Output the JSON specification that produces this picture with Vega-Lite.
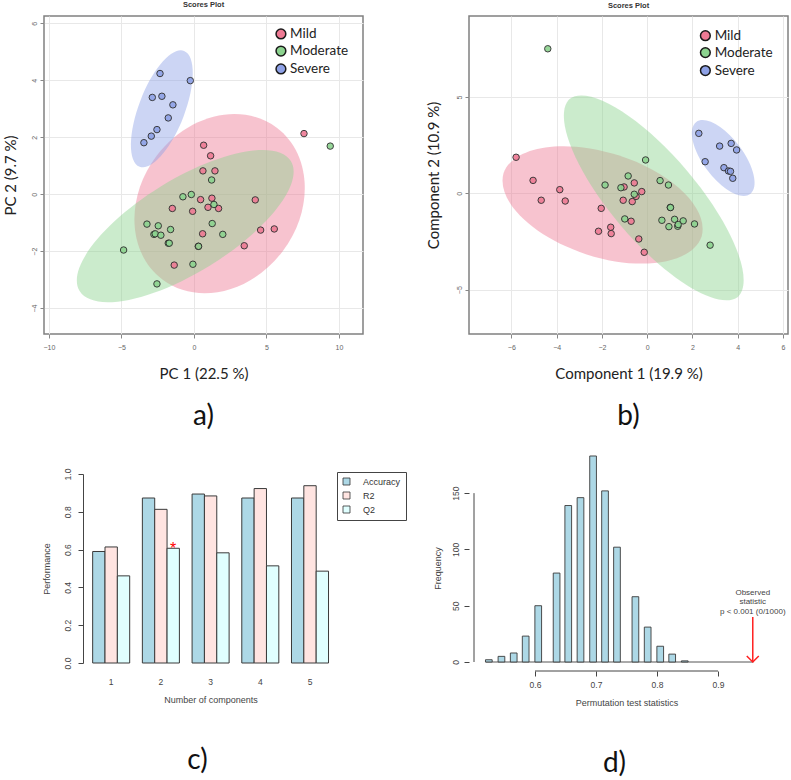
{
  "$schema": "https://vega.github.io/schema/vega-lite/v6.json",
  "background": "white",
  "padding": {"left": 2, "top": 0, "right": 0, "bottom": 0},
  "columns": 2,
  "bounds": "flush",
  "align": "all",
  "spacing": {"row": 140, "column": 106},
  "resolve": {
    "scale": {"color": "independent", "fill": "independent", "shape": "independent", "x": "independent", "y": "independent"},
    "legend": {"color": "independent", "fill": "independent", "shape": "independent"}
  },
  "datasets": {
    "ptsA": [
      {"group": "Severe", "x": -2.34, "y": 4.24}, {"group": "Severe", "x": -0.25, "y": 3.99}, {"group": "Severe", "x": -2.87, "y": 3.40},
      {"group": "Severe", "x": -2.21, "y": 3.44}, {"group": "Severe", "x": -1.45, "y": 3.14}, {"group": "Severe", "x": -1.77, "y": 2.68},
      {"group": "Severe", "x": -2.55, "y": 2.27}, {"group": "Severe", "x": -2.94, "y": 2.04}, {"group": "Severe", "x": -3.45, "y": 1.81},
      {"group": "Mild", "x": 7.59, "y": 2.13}, {"group": "Mild", "x": 0.67, "y": 1.72}, {"group": "Mild", "x": 1.15, "y": 1.35},
      {"group": "Mild", "x": 0.62, "y": 0.82}, {"group": "Mild", "x": 1.45, "y": 0.82}, {"group": "Mild", "x": 0.46, "y": -0.19},
      {"group": "Mild", "x": 1.24, "y": -0.14}, {"group": "Mild", "x": 4.23, "y": -0.20}, {"group": "Mild", "x": -1.49, "y": -0.50},
      {"group": "Mild", "x": 0.97, "y": -0.46}, {"group": "Mild", "x": 1.70, "y": -0.50}, {"group": "Mild", "x": -0.09, "y": -0.60},
      {"group": "Mild", "x": 4.60, "y": -1.26}, {"group": "Mild", "x": 5.54, "y": -1.22}, {"group": "Mild", "x": 0.60, "y": -1.39},
      {"group": "Mild", "x": 3.47, "y": -1.81}, {"group": "Mild", "x": 0.30, "y": -1.83}, {"group": "Mild", "x": -1.36, "y": -2.49},
      {"group": "Moderate", "x": 9.40, "y": 1.69}, {"group": "Moderate", "x": 1.22, "y": 0.50}, {"group": "Moderate", "x": -0.76, "y": -0.09},
      {"group": "Moderate", "x": -0.18, "y": -0.01}, {"group": "Moderate", "x": 1.38, "y": -0.36}, {"group": "Moderate", "x": 1.26, "y": -1.03},
      {"group": "Moderate", "x": 1.99, "y": -1.41}, {"group": "Moderate", "x": -3.24, "y": -1.05}, {"group": "Moderate", "x": -2.46, "y": -1.11},
      {"group": "Moderate", "x": -1.61, "y": -1.24}, {"group": "Moderate", "x": -2.76, "y": -1.41}, {"group": "Moderate", "x": -2.67, "y": -1.39},
      {"group": "Moderate", "x": -2.28, "y": -1.44}, {"group": "Moderate", "x": -1.77, "y": -1.72}, {"group": "Moderate", "x": -1.70, "y": -1.72},
      {"group": "Moderate", "x": 0.32, "y": -1.83}, {"group": "Moderate", "x": -0.07, "y": -2.46}, {"group": "Moderate", "x": -4.85, "y": -1.96},
      {"group": "Moderate", "x": -2.55, "y": -3.15}
    ],
    "ellA": [
      {"cluster": "Mild", "x": 1.77, "y": -0.33},
      {"cluster": "Moderate", "x": -0.6, "y": -1.12},
      {"cluster": "Severe", "x": -2.21, "y": 3.0}
    ],
    "ptsB": [
      {"group": "Severe", "x": 2.28, "y": 3.11}, {"group": "Severe", "x": 3.20, "y": 2.45}, {"group": "Severe", "x": 3.71, "y": 2.59},
      {"group": "Severe", "x": 3.95, "y": 2.25}, {"group": "Severe", "x": 2.56, "y": 1.64}, {"group": "Severe", "x": 3.39, "y": 1.33},
      {"group": "Severe", "x": 3.59, "y": 1.16}, {"group": "Severe", "x": 3.68, "y": 1.14}, {"group": "Severe", "x": 3.78, "y": 0.78},
      {"group": "Mild", "x": -5.79, "y": 1.87}, {"group": "Mild", "x": -5.04, "y": 0.67}, {"group": "Mild", "x": -3.86, "y": 0.19},
      {"group": "Mild", "x": -4.68, "y": -0.36}, {"group": "Mild", "x": -3.62, "y": -0.40}, {"group": "Mild", "x": -2.03, "y": -0.78},
      {"group": "Mild", "x": -2.15, "y": -1.97}, {"group": "Mild", "x": -1.61, "y": -1.76}, {"group": "Mild", "x": -1.59, "y": -2.09},
      {"group": "Mild", "x": -0.37, "y": -2.37}, {"group": "Mild", "x": -0.13, "y": -3.06}, {"group": "Mild", "x": -1.02, "y": 0.33},
      {"group": "Mild", "x": -0.57, "y": 0.54}, {"group": "Mild", "x": -0.24, "y": 0.09}, {"group": "Mild", "x": -0.49, "y": -0.16},
      {"group": "Mild", "x": -0.66, "y": -0.43}, {"group": "Mild", "x": -1.06, "y": -0.36}, {"group": "Mild", "x": -0.71, "y": -1.45},
      {"group": "Moderate", "x": -4.39, "y": 7.50}, {"group": "Moderate", "x": -0.07, "y": 1.73}, {"group": "Moderate", "x": -1.86, "y": 0.43},
      {"group": "Moderate", "x": -0.84, "y": 0.90}, {"group": "Moderate", "x": -1.16, "y": 0.29}, {"group": "Moderate", "x": -0.57, "y": -0.05},
      {"group": "Moderate", "x": 0.57, "y": 0.66}, {"group": "Moderate", "x": 0.94, "y": 0.43}, {"group": "Moderate", "x": 1.02, "y": -0.73},
      {"group": "Moderate", "x": 1.03, "y": -0.74}, {"group": "Moderate", "x": -0.99, "y": -1.33}, {"group": "Moderate", "x": 0.65, "y": -1.40},
      {"group": "Moderate", "x": 1.21, "y": -1.35}, {"group": "Moderate", "x": 1.59, "y": -1.43}, {"group": "Moderate", "x": 0.96, "y": -1.73},
      {"group": "Moderate", "x": 1.35, "y": -1.71}, {"group": "Moderate", "x": 1.37, "y": -1.62}, {"group": "Moderate", "x": 2.09, "y": -1.59},
      {"group": "Moderate", "x": 2.78, "y": -2.69}
    ],
    "ellB": [
      {"cluster": "Mild", "x": -1.97, "y": -0.60},
      {"cluster": "Moderate", "x": 0.29, "y": -0.24},
      {"cluster": "Severe", "x": 3.36, "y": 1.83}
    ],
    "perf": [
      {"comp": "1", "metric": "Accuracy", "value": 0.590}, {"comp": "1", "metric": "R2", "value": 0.614}, {"comp": "1", "metric": "Q2", "value": 0.461},
      {"comp": "2", "metric": "Accuracy", "value": 0.873}, {"comp": "2", "metric": "R2", "value": 0.813}, {"comp": "2", "metric": "Q2", "value": 0.607},
      {"comp": "3", "metric": "Accuracy", "value": 0.894}, {"comp": "3", "metric": "R2", "value": 0.884}, {"comp": "3", "metric": "Q2", "value": 0.583},
      {"comp": "4", "metric": "Accuracy", "value": 0.873}, {"comp": "4", "metric": "R2", "value": 0.923}, {"comp": "4", "metric": "Q2", "value": 0.514},
      {"comp": "5", "metric": "Accuracy", "value": 0.873}, {"comp": "5", "metric": "R2", "value": 0.938}, {"comp": "5", "metric": "Q2", "value": 0.486}
    ],
    "best": [{"comp": "2", "metric": "Q2", "value": 0.607}],
    "perm": [
      {"stat": 0.5243, "freq": 2}, {"stat": 0.5450, "freq": 5}, {"stat": 0.5651, "freq": 8}, {"stat": 0.5847, "freq": 23},
      {"stat": 0.6053, "freq": 50}, {"stat": 0.6354, "freq": 79}, {"stat": 0.6545, "freq": 139}, {"stat": 0.6746, "freq": 146},
      {"stat": 0.6952, "freq": 183}, {"stat": 0.7148, "freq": 152}, {"stat": 0.7344, "freq": 102}, {"stat": 0.7646, "freq": 58},
      {"stat": 0.7847, "freq": 31}, {"stat": 0.8053, "freq": 14}, {"stat": 0.8249, "freq": 7}, {"stat": 0.8455, "freq": 1}
    ],
    "observed": [{"stat": 0.957, "freq": 0}],
    "ref": [{}]
  },
  "config": {
    "font": "Liberation Sans",
    "view": {"stroke": null},
    "axis": {"labelFont": "Liberation Sans", "titleFont": "Liberation Sans", "titleFontWeight": "normal"},
    "title": {"font": "Lato", "fontWeight": "normal", "fontSize": 28, "color": "#111111"}
  },
  "concat": [
    {
      "width": 319, "height": 318,
      "view": {"stroke": "#808080", "strokeWidth": 1.5},
      "title": {"text": "a)", "orient": "bottom", "frame": "group", "anchor": "middle", "offset": 22},
      "layer": [
        {
          "data": {"name": "ellA"},
          "mark": {"type": "point", "filled": true, "size": 40000, "opacity": 0.45},
          "encoding": {
            "x": {"field": "x", "type": "quantitative", "scale": {"domain": [-10.34, 11.66], "nice": false, "zero": false},
              "axis": {"title": "PC 1 (22.5 %)", "values": [-10, -5, 0, 5, 10], "grid": true, "gridColor": "#e8e8e8", "domain": false, "tickColor": "#888888", "tickSize": 4, "labelFontSize": 7, "labelColor": "#666666", "labelPadding": 5, "titleFont": "Lato", "titleFontSize": 15, "titleColor": "#222222", "titlePadding": 16}},
            "y": {"field": "y", "type": "quantitative", "scale": {"domain": [-4.91, 6.26], "nice": false, "zero": false},
              "axis": {"title": "PC 2 (9.7 %)", "values": [-4, -2, 0, 2, 4, 6], "grid": true, "gridColor": "#e8e8e8", "domain": false, "tickColor": "#888888", "tickSize": 4, "labelAngle": -90, "labelOverlap": false, "labelFontSize": 7, "labelColor": "#666666", "labelPadding": 3, "titleFont": "Lato", "titleFontSize": 15, "titleColor": "#222222", "titlePadding": 12}},
            "shape": {"field": "cluster", "type": "nominal", "legend": null, "scale": {"domain": ["Mild", "Moderate", "Severe"], "range": [
              "M 0.572 -0.759 A 0.95 0.79 -53 0 1 -0.572 0.759 A 0.95 0.79 -53 0 1 0.572 -0.759 Z",
              "M 1.056 -0.650 A 1.24 0.465 -31.6 0 1 -1.056 0.650 A 1.24 0.465 -31.6 0 1 1.056 -0.650 Z",
              "M 0.222 -0.579 A 0.62 0.23 -69 0 1 -0.222 0.579 A 0.62 0.23 -69 0 1 0.222 -0.579 Z"]}},
            "fill": {"field": "cluster", "type": "nominal", "legend": null, "scale": {"domain": ["Mild", "Moderate", "Severe"], "range": ["#ee7a94", "#8cd38f", "#8ea1e6"]}}
          }
        },
        {
          "data": {"name": "ptsA"},
          "mark": {"type": "point", "filled": true, "size": 42, "stroke": "#2b2b2b", "strokeWidth": 1, "opacity": 0.9},
          "encoding": {
            "x": {"field": "x", "type": "quantitative"},
            "y": {"field": "y", "type": "quantitative"},
            "color": {"field": "group", "type": "nominal", "scale": {"domain": ["Mild", "Moderate", "Severe"], "range": ["#ee7a94", "#8cd38f", "#8ea1e6"]}, "legend": null}
          }
        },
        {
          "data": {"name": "ref"},
          "mark": {"type": "text", "text": "Scores Plot", "fontSize": 7.5, "fontWeight": "bold", "color": "#333333", "baseline": "middle"},
          "encoding": {"x": {"datum": 0.66, "type": "quantitative"}, "y": {"datum": 6.63, "type": "quantitative"}}
        },
        {
          "data": {"name": "ref"},
          "mark": {"type": "point", "filled": true, "size": 95, "fill": "#ee7a94", "stroke": "#1a1a1a", "strokeWidth": 1.5, "opacity": 1},
          "encoding": {"x": {"datum": 6.0, "type": "quantitative"}, "y": {"datum": 5.63, "type": "quantitative"}}
        },
        {
          "data": {"name": "ref"},
          "mark": {"type": "point", "filled": true, "size": 95, "fill": "#8cd38f", "stroke": "#1a1a1a", "strokeWidth": 1.5, "opacity": 1},
          "encoding": {"x": {"datum": 6.0, "type": "quantitative"}, "y": {"datum": 5.03, "type": "quantitative"}}
        },
        {
          "data": {"name": "ref"},
          "mark": {"type": "point", "filled": true, "size": 95, "fill": "#8ea1e6", "stroke": "#1a1a1a", "strokeWidth": 1.5, "opacity": 1},
          "encoding": {"x": {"datum": 6.0, "type": "quantitative"}, "y": {"datum": 4.40, "type": "quantitative"}}
        },
        {
          "data": {"name": "ref"},
          "mark": {"type": "text", "text": ["Mild", "Moderate", "Severe"], "font": "Lato", "fontSize": 13.5, "color": "#222222", "align": "left", "baseline": "middle", "lineHeight": 17.5},
          "encoding": {"x": {"datum": 6.63, "type": "quantitative"}, "y": {"datum": 5.63, "type": "quantitative"}}
        }
      ]
    },
    {
      "width": 319, "height": 318,
      "view": {"stroke": "#808080", "strokeWidth": 1.5},
      "title": {"text": "b)", "orient": "bottom", "frame": "group", "anchor": "middle", "offset": 22},
      "layer": [
        {
          "data": {"name": "ellB"},
          "mark": {"type": "point", "filled": true, "size": 40000, "opacity": 0.45},
          "encoding": {
            "x": {"field": "x", "type": "quantitative", "scale": {"domain": [-7.87, 6.22], "nice": false, "zero": false},
              "axis": {"title": "Component 1 (19.9 %)", "values": [-6, -4, -2, 0, 2, 4, 6], "grid": true, "gridColor": "#e8e8e8", "domain": false, "tickColor": "#888888", "tickSize": 4, "labelFontSize": 7, "labelColor": "#666666", "labelPadding": 5, "titleFont": "Lato", "titleFontSize": 15, "titleColor": "#222222", "titlePadding": 16}},
            "y": {"field": "y", "type": "quantitative", "scale": {"domain": [-7.3, 9.2], "nice": false, "zero": false},
              "axis": {"title": "Component 2 (10.9 %)", "values": [-5, 0, 5], "grid": true, "gridColor": "#e8e8e8", "domain": false, "tickColor": "#888888", "tickSize": 4, "labelAngle": -90, "labelOverlap": false, "labelFontSize": 7, "labelColor": "#666666", "labelPadding": 3, "titleFont": "Lato", "titleFontSize": 15, "titleColor": "#222222", "titlePadding": 14}},
            "shape": {"field": "cluster", "type": "nominal", "legend": null, "scale": {"domain": ["Mild", "Moderate", "Severe"], "range": [
              "M 0.990 0.318 A 1.04 0.53 17.8 0 1 -0.990 -0.318 A 1.04 0.53 17.8 0 1 0.990 0.318 Z",
              "M 0.842 0.990 A 1.30 0.44 49.6 0 1 -0.842 -0.990 A 1.30 0.44 49.6 0 1 0.842 0.990 Z",
              "M 0.270 0.360 A 0.45 0.20 53.1 0 1 -0.270 -0.360 A 0.45 0.20 53.1 0 1 0.270 0.360 Z"]}},
            "fill": {"field": "cluster", "type": "nominal", "legend": null, "scale": {"domain": ["Mild", "Moderate", "Severe"], "range": ["#ee7a94", "#8cd38f", "#8ea1e6"]}}
          }
        },
        {
          "data": {"name": "ptsB"},
          "mark": {"type": "point", "filled": true, "size": 42, "stroke": "#2b2b2b", "strokeWidth": 1, "opacity": 0.9},
          "encoding": {
            "x": {"field": "x", "type": "quantitative"},
            "y": {"field": "y", "type": "quantitative"},
            "color": {"field": "group", "type": "nominal", "scale": {"domain": ["Mild", "Moderate", "Severe"], "range": ["#ee7a94", "#8cd38f", "#8ea1e6"]}, "legend": null}
          }
        },
        {
          "data": {"name": "ref"},
          "mark": {"type": "text", "text": "Scores Plot", "fontSize": 7.5, "fontWeight": "bold", "color": "#333333", "baseline": "middle"},
          "encoding": {"x": {"datum": -0.825, "type": "quantitative"}, "y": {"datum": 9.74, "type": "quantitative"}}
        },
        {
          "data": {"name": "ref"},
          "mark": {"type": "point", "filled": true, "size": 95, "fill": "#ee7a94", "stroke": "#1a1a1a", "strokeWidth": 1.5, "opacity": 1},
          "encoding": {"x": {"datum": 2.57, "type": "quantitative"}, "y": {"datum": 8.18, "type": "quantitative"}}
        },
        {
          "data": {"name": "ref"},
          "mark": {"type": "point", "filled": true, "size": 95, "fill": "#8cd38f", "stroke": "#1a1a1a", "strokeWidth": 1.5, "opacity": 1},
          "encoding": {"x": {"datum": 2.57, "type": "quantitative"}, "y": {"datum": 7.30, "type": "quantitative"}}
        },
        {
          "data": {"name": "ref"},
          "mark": {"type": "point", "filled": true, "size": 95, "fill": "#8ea1e6", "stroke": "#1a1a1a", "strokeWidth": 1.5, "opacity": 1},
          "encoding": {"x": {"datum": 2.57, "type": "quantitative"}, "y": {"datum": 6.37, "type": "quantitative"}}
        },
        {
          "data": {"name": "ref"},
          "mark": {"type": "text", "text": ["Mild", "Moderate", "Severe"], "font": "Lato", "fontSize": 13.5, "color": "#222222", "align": "left", "baseline": "middle", "lineHeight": 17.5},
          "encoding": {"x": {"datum": 2.98, "type": "quantitative"}, "y": {"datum": 8.18, "type": "quantitative"}}
        }
      ]
    },
    {
      "width": 297, "height": 189,
      "title": {"text": "c)", "orient": "bottom", "frame": "group", "anchor": "middle", "offset": 42, "dx": 5},
      "layer": [
        {
          "data": {"name": "perf"},
          "mark": {"type": "bar", "stroke": "#3a3a3a", "strokeWidth": 1},
          "encoding": {
            "x": {"field": "comp", "type": "ordinal", "scale": {"paddingInner": 0.255, "paddingOuter": 0.615, "align": 0.796},
              "axis": {"title": "Number of components", "labelAngle": 0, "ticks": false, "domain": false, "labelPadding": 14, "labelFontSize": 8.5, "labelColor": "#444444", "titleFontSize": 9, "titleColor": "#444444", "titlePadding": 10, "titleX": 166.5}},
            "xOffset": {"field": "metric", "type": "nominal", "scale": {"domain": ["Accuracy", "R2", "Q2"]}},
            "y": {"field": "value", "type": "quantitative", "scale": {"domain": [0, 1], "nice": false},
              "axis": {"title": "Performance", "values": [0, 0.2, 0.4, 0.6, 0.8, 1.0], "format": ".1f", "labelAngle": -90, "labelOverlap": false, "offset": -39, "grid": false, "domain": true, "domainColor": "#444444", "domainWidth": 1, "tickColor": "#444444", "tickSize": 5, "labelFontSize": 8.5, "labelColor": "#444444", "labelPadding": 6, "titleFontSize": 9, "titleColor": "#444444", "titlePadding": 12}},
            "fill": {"field": "metric", "type": "nominal", "scale": {"domain": ["Accuracy", "R2", "Q2"], "range": ["#add8e6", "#ffe4e1", "#e0ffff"]},
              "legend": {"title": null, "orient": "none", "legendX": 293, "legendY": -2, "strokeColor": "#444444", "padding": 5, "symbolType": "square", "symbolSize": 49, "symbolStrokeColor": "#333333", "symbolStrokeWidth": 0.8, "labelFontSize": 9, "labelColor": "#333333", "rowPadding": 3, "labelOffset": 12}}
          }
        },
        {
          "data": {"name": "best"},
          "mark": {"type": "text", "text": "*", "fontSize": 16, "color": "#ff0000", "baseline": "alphabetic", "dy": 6},
          "encoding": {
            "x": {"field": "comp", "type": "ordinal"},
            "xOffset": {"field": "metric", "type": "nominal"},
            "y": {"field": "value", "type": "quantitative", "axis": {"values": [0, 0.2, 0.4, 0.6, 0.8, 1.0], "labelOverlap": false, "title": "Performance"}}
          }
        }
      ]
    },
    {
      "width": 315, "height": 188,
      "title": {"text": "d)", "orient": "bottom", "frame": "group", "anchor": "middle", "offset": 42, "dx": -12},
      "layer": [
        {
          "data": {"name": "ref"},
          "mark": {"type": "rule", "color": "#555555", "strokeWidth": 1},
          "encoding": {
            "x": {"datum": 0.519, "type": "quantitative"},
            "x2": {"datum": 0.958},
            "y": {"datum": 0, "type": "quantitative"}
          }
        },
        {
          "data": {"name": "perm"},
          "mark": {"type": "bar", "size": 6.7, "fill": "#add8e6", "stroke": "#3a3a3a", "strokeWidth": 0.9},
          "encoding": {
            "x": {"field": "stat", "type": "quantitative", "scale": {"domain": [0.5, 1.0], "nice": false, "zero": false},
              "axis": {"title": "Permutation test statistics", "values": [0.6, 0.7, 0.8, 0.9], "format": ".1f", "domain": false, "grid": false, "offset": 9, "tickSize": 5, "tickColor": "#444444", "labelFontSize": 8.5, "labelColor": "#444444", "labelPadding": 4, "titleFontSize": 9, "titleColor": "#444444", "titlePadding": 10}},
            "y": {"field": "freq", "type": "quantitative", "scale": {"domain": [0, 167], "nice": false},
              "axis": {"title": "Frequency", "values": [0, 50, 100, 150], "labelAngle": -90, "labelOverlap": false, "domain": false, "grid": false, "tickSize": 5, "tickColor": "#444444", "labelFontSize": 8.5, "labelColor": "#444444", "labelPadding": 4, "titleFontSize": 9, "titleColor": "#444444", "titlePadding": 9}}
          }
        },
        {
          "data": {"name": "ref"},
          "mark": {"type": "rule", "color": "#444444", "strokeWidth": 1},
          "encoding": {
            "x": {"datum": 0.5, "type": "quantitative"},
            "y": {"datum": 0, "type": "quantitative"},
            "y2": {"datum": 150}
          }
        },
        {
          "data": {"name": "ref"},
          "mark": {"type": "rule", "color": "#444444", "strokeWidth": 1},
          "encoding": {
            "x": {"datum": 0.6, "type": "quantitative"},
            "x2": {"datum": 0.9},
            "y": {"datum": -8, "type": "quantitative"}
          }
        },
        {
          "data": {"name": "observed"},
          "mark": {"type": "rule", "color": "#ff2020", "strokeWidth": 1.5},
          "encoding": {
            "x": {"field": "stat", "type": "quantitative"},
            "y": {"field": "freq", "type": "quantitative"},
            "y2": {"datum": 40}
          }
        },
        {
          "data": {"name": "observed"},
          "mark": {"type": "point", "shape": "M -1 -1 L 0 0 L 1 -1", "size": 144, "filled": false, "stroke": "#ff2020", "strokeWidth": 1.5, "opacity": 1},
          "encoding": {
            "x": {"field": "stat", "type": "quantitative"},
            "y": {"field": "freq", "type": "quantitative"}
          }
        },
        {
          "data": {"name": "observed"},
          "mark": {"type": "text", "text": ["Observed", "statistic", "p < 0.001 (0/1000)"], "fontSize": 8, "color": "#444444", "align": "center", "baseline": "bottom", "lineHeight": 9.5},
          "encoding": {
            "x": {"field": "stat", "type": "quantitative"},
            "y": {"datum": 58, "type": "quantitative"}
          }
        }
      ]
    }
  ]
}
